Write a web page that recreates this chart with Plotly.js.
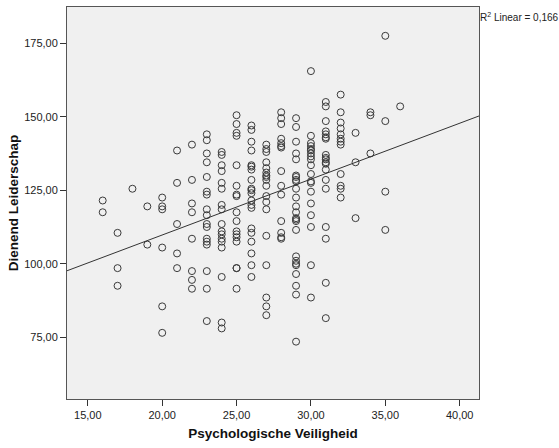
<!DOCTYPE html>
<html><head><meta charset="utf-8">
<script src="https://cdn.plot.ly/plotly-3.0.1.min.js"></script>
<style>html,body{margin:0;padding:0;background:#fff}#chart{width:559px;height:448px}</style>
</head><body><div id="chart"></div><script>
// Psychologische Veiligheid (x) and Dienend Leiderschap (y)
const psychVeiligheid = [
  16,16,
  17,17,17,
  18,
  19,19,
  20,20,20,20,20,20,
  21,21,21,21,21,
  22,22,22,22,22,22,22,22,
  23,23,23,23,23,23,23,23,23,23,23,23,23,23,23,23,23,
  24,24,24,24,24,24,24,24,24,24,24,24,24,24,24,24,24,
  25,25,25,25,25,25,25,25,25,25,25,25,25,25,25,25,25,
  26,26,26,26,26,26,26,26,26,26,26,26,26,26,26,26,26,26,26,26,
  27,27,27,27,27,27,27,27,27,27,27,27,27,27,27,27,27,27,
  28,28,28,28,28,28,28,28,28,28,28,28,28,28,
  29,29,29,29,29,29,29,29,29,29,29,29,29,29,29,29,29,29,29,29,29,29,29,29,29,
  30,30,30,30,30,30,30,30,30,30,30,30,30,30,30,30,30,30,30,
  31,31,31,31,31,31,31,31,31,31,31,31,31,31,31,31,31,31,31,
  32,32,32,32,32,32,32,32,32,32,32,32,
  33,33,33,
  34,34,34,
  35,35,35,35,
  36
];
const dienendLeiderschap = [
  121.5,117.5,
  110.5,98.5,92.5,
  125.5,
  119.5,106.5,
  122.5,119.5,118.5,105.5,85.5,76.5,
  138.5,127.5,113.5,103.5,98.5,
  140.5,128.5,120.5,117.5,108.5,97.5,94.5,91.5,
  144,142,137.5,134.5,129.5,124.5,123.5,118.5,116.5,113.5,112.5,108.5,107.5,106.5,97.5,91.5,80.5,
  138,137,133.5,131.5,127.5,125.5,120,118.5,113.5,111,110,108.5,107.5,105.5,95.5,80,78,
  150.5,147.5,144.5,143.5,133.5,126.5,123.5,123,117.5,114.5,111,110,109,107.5,98.5,98.5,91.5,
  147,145.5,141.5,138.5,133.5,133,132,128.5,125.5,125,124,121.5,120,119,112,110.5,107.5,103.5,99.5,95.5,
  140.5,139,138,134.5,132.5,131,130,129.5,128.5,126.5,123,121,118.5,109.5,99.5,88.5,85.5,82.5,
  151.5,149.5,147.5,142.5,141,140,139.5,131.5,126.5,123.5,114.5,110.5,109,108.5,
  149.5,146.5,141.5,137.5,135.5,130,129.5,128.5,128,125.5,122.5,119.5,117.5,115.5,115,114.5,111.5,102.5,101,100,99.5,96.5,92.5,89.5,73.5,
  165.5,143.5,141,140,139,138.5,137.5,136.5,135.5,133.5,130.5,128,127.5,124.5,120.5,116.5,112.5,99.5,88.5,
  155,153.5,148.5,145,144,143,142.5,137,136,135.5,134.5,134,132,128.5,125.5,112.5,108.5,93.5,81.5,
  157.5,151.5,148,146,144,142.5,141.5,140.5,130.5,126.5,125.5,122.5,
  144.5,134.5,115.5,
  151.5,150.5,137.5,
  177.5,148.5,124.5,111.5,
  153.5
];
const xTickVals = [15, 20, 25, 30, 35, 40];
const yTickVals = [75, 100, 125, 150, 175];
const r2Label = 'R<sup>2</sup> Linear = 0,166';

// least-squares fit line computed from the data
const n = psychVeiligheid.length;
let mx = 0, my = 0;
for (let i = 0; i < n; i++) { mx += psychVeiligheid[i]; my += dienendLeiderschap[i]; }
mx /= n; my /= n;
let sxy = 0, sxx = 0;
for (let i = 0; i < n; i++) {
  sxy += (psychVeiligheid[i] - mx) * (dienendLeiderschap[i] - my);
  sxx += (psychVeiligheid[i] - mx) ** 2;
}
const slope = sxy / sxx, intercept = my - slope * mx;
const xRange = [13.6, 41.3];
const fitX = xRange.slice();
const fitY = fitX.map(v => intercept + slope * v);

const font = 'Liberation Sans, Arial, sans-serif';
const traces = [
  {x: psychVeiligheid, y: dienendLeiderschap, type: 'scatter', mode: 'markers',
   marker: {symbol: 'circle-open', size: 7, color: '#3a3a3a', line: {width: 1, color: '#3a3a3a'}},
   hoverinfo: 'x+y'},
  {x: fitX, y: fitY, type: 'scatter', mode: 'lines', line: {color: '#333', width: 1}, hoverinfo: 'skip'}
];
const layout = {
  width: 559, height: 448,
  margin: {l: 67, r: 80, t: 7, b: 49},
  paper_bgcolor: '#fff', plot_bgcolor: '#f0f0f0',
  showlegend: false,
  separators: ',.',
  font: {family: font, color: '#222'},
  xaxis: {
    range: xRange, tickvals: xTickVals, tickformat: '.2f',
    ticks: 'outside', ticklen: 6, tickcolor: '#333',
    showgrid: false, zeroline: false, showline: true, mirror: true, linecolor: '#555', linewidth: 1,
    tickfont: {family: font, size: 11, color: '#222'},
    title: {text: 'Psychologische Veiligheid', font: {family: font, size: 13.5, weight: 700, color: '#111'}, standoff: 8}
  },
  yaxis: {
    range: [54, 187.3], tickvals: yTickVals, tickformat: '.2f',
    ticks: 'outside', ticklen: 6, tickcolor: '#333',
    showgrid: false, zeroline: false, showline: true, mirror: true, linecolor: '#555', linewidth: 1,
    tickfont: {family: font, size: 11, color: '#222'},
    title: {text: 'Dienend Leiderschap', font: {family: font, size: 13.5, weight: 700, color: '#111'}, standoff: 2}
  },
  annotations: [{
    text: r2Label, xref: 'paper', yref: 'paper', x: 1, y: 1, xanchor: 'left', yanchor: 'top',
    showarrow: false, font: {family: font, size: 10, color: '#222'}, xshift: -1, yshift: -2
  }]
};
Plotly.newPlot('chart', traces, layout, {displayModeBar: false, staticPlot: true});
</script></body></html>
